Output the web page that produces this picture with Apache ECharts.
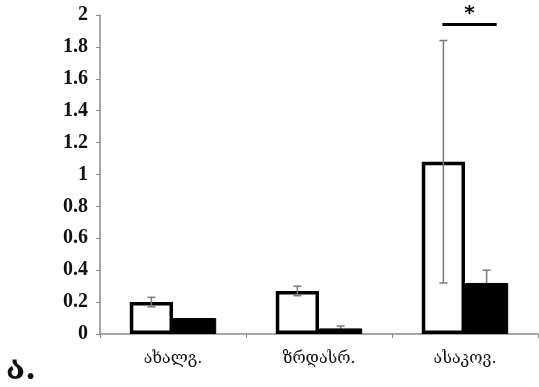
<!DOCTYPE html>
<html><head><meta charset="utf-8">
<script src="https://cdn.jsdelivr.net/npm/echarts@6/dist/echarts.min.js"></script>
<style>html,body{margin:0;padding:0;background:#fff}#c{width:539px;height:387px}</style>
</head><body><div id="c"></div>
<script>
var categories = ['ახალგ.', 'ზრდასრ.', 'ასაკოვ.'];
var whiteValues = [0.20, 0.27, 1.08];
var whiteErrors = [0.03, 0.03, 0.76];
var blackValues = [0.10, 0.035, 0.32];
var blackErrors = [0, 0.015, 0.08];
var yTicks = [0, 0.2, 0.4, 0.6, 0.8, 1, 1.2, 1.4, 1.6, 1.8, 2];
var sigCategory = 2;
var sigLevel = 1.94;
var sigLabel = '*';

var chart = echarts.init(document.getElementById('c'), null, {renderer: 'canvas'});

function errorSeries(values, errors, offsetSign, z) {
  return {
    type: 'custom',
    z: z,
    data: values.map(function (v, i) { return [i, v, errors[i]]; }),
    renderItem: function (params, api) {
      var i = api.value(0), v = api.value(1), e = api.value(2);
      if (!e) return null;
      var band = api.size([1, 0])[0];
      var c = api.coord([i, v]);
      var x = c[0] + offsetSign * band * 0.148;
      var top = api.coord([i, v + e])[1];
      var bot = api.coord([i, v - e])[1];
      var cap = 4;
      var st = {stroke: '#7a7a7a', lineWidth: 1.5};
      return {type: 'group', children: [
        {type: 'line', shape: {x1: x, y1: top, x2: x, y2: bot}, style: st},
        {type: 'line', shape: {x1: x - cap, y1: top, x2: x + cap, y2: top}, style: st},
        {type: 'line', shape: {x1: x - cap, y1: bot, x2: x + cap, y2: bot}, style: st}
      ]};
    }
  };
}

chart.setOption({
  animation: false,
  grid: {left: 100, right: 1, top: 15, bottom: 53},
  xAxis: {
    type: 'category',
    data: categories,
    axisLine: {lineStyle: {color: '#8a8a8a', width: 1.5}},
    axisTick: {show: true, length: 4, lineStyle: {color: '#8a8a8a'}},
    axisLabel: {color: '#111', fontSize: 16, fontFamily: 'DejaVu Serif', margin: 17}
  },
  yAxis: {
    type: 'value', min: 0, max: 2, interval: 0.2,
    axisLine: {show: true, lineStyle: {color: '#8a8a8a', width: 1.5}},
    axisTick: {show: true, length: 4, lineStyle: {color: '#8a8a8a'}},
    splitLine: {show: false},
    axisLabel: {
      color: '#111', fontSize: 20, fontWeight: 'bold', fontFamily: 'Liberation Serif', margin: 12,
      formatter: function (v) {
        for (var k = 0; k < yTicks.length; k++) if (Math.abs(yTicks[k] - v) < 1e-9) return String(yTicks[k]);
        return '';
      }
    }
  },
  graphic: [{type: 'text', left: 6, top: 355, style: {text: 'ა.', font: 'bold 32px "DejaVu Serif"', fill: '#111'}}],
  series: [
    {type: 'bar', data: whiteValues, barWidth: '29.6%', barGap: '0%', barCategoryGap: '40%', z: 2,
     itemStyle: {color: '#fff', borderColor: '#000', borderWidth: 3.5}},
    {type: 'bar', data: blackValues, barWidth: '29.6%', barGap: '0%', z: 2,
     itemStyle: {color: '#000', borderColor: '#000', borderWidth: 1}},
    errorSeries(whiteValues, whiteErrors, -1, 5),
    errorSeries(blackValues, blackErrors, 1, 1),
    {
      type: 'custom', z: 6, clip: false,
      data: [[sigCategory, sigLevel]],
      renderItem: function (params, api) {
        var band = api.size([1, 0])[0];
        var c = api.coord([api.value(0), api.value(1)]);
        var x1 = c[0] - band * 0.155, x2 = c[0] + band * 0.217;
        return {type: 'group', children: [
          {type: 'line', shape: {x1: x1, y1: c[1], x2: x2, y2: c[1]}, style: {stroke: '#000', lineWidth: 3}},
          {type: 'text', style: {text: sigLabel, x: (x1 + x2) / 2, y: c[1] - 11, align: 'center', verticalAlign: 'middle',
            font: 'bold 20px "DejaVu Sans"', fill: '#000'}}
        ]};
      }
    }
  ]
});
</script></body></html>
